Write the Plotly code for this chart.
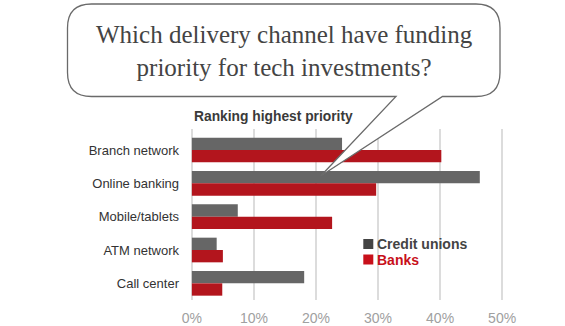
import plotly.graph_objects as go

categories = ["Branch network", "Online banking", "Mobile/tablets", "ATM network", "Call center"]
credit_unions = [24.2, 46.4, 7.4, 4.0, 18.1]
banks = [40.2, 29.7, 22.6, 5.0, 4.9]
x_ticks = [0, 10, 20, 30, 40, 50]
x_tick_labels = ["0%", "10%", "20%", "30%", "40%", "50%"]
series_names = ["Credit unions", "Banks"]
series_colors = ["#666666", "#b3151d"]
legend_text_colors = ["#444444", "#c8101a"]

W, H = 565, 326
L, R, T, B = 190, 61, 129, 26
PW, PH = W - L - R, H - T - B

def px(x):
    return (x - L) / PW

def py(y):
    return (H - B - y) / PH

fig = go.Figure()
for name, vals, col in zip(series_names, [credit_unions, banks], series_colors):
    fig.add_trace(go.Bar(
        y=categories, x=vals, orientation="h", name=name,
        marker=dict(color=col, line=dict(width=0)), showlegend=False,
    ))

# speech bubble
x0, x1, y0, y1, r = 67.5, 500, 4, 96.5, 24
tb1, tb2, tip = 396, 442.5, (320.7, 176)
def P(x, y):
    return f"{px(x):.5f},{py(y):.5f}"
path = (f"M{P(x0 + r, y0)} L{P(x1 - r, y0)} Q{P(x1, y0)} {P(x1, y0 + r)} "
        f"L{P(x1, y1 - r)} Q{P(x1, y1)} {P(x1 - r, y1)} L{P(tb2, y1)} "
        f"L{P(*tip)} L{P(tb1, y1)} L{P(x0 + r, y1)} Q{P(x0, y1)} {P(x0, y1 - r)} "
        f"L{P(x0, y0 + r)} Q{P(x0, y0)} {P(x0 + r, y0)} Z")
fig.add_shape(type="path", path=path, xref="paper", yref="paper",
              fillcolor="white", line=dict(color="#6a6a6a", width=1.3), layer="above")

fig.add_annotation(
    text="Which delivery channel have funding<br>priority for tech investments?",
    x=px(284), y=py(51), xref="paper", yref="paper", showarrow=False,
    xanchor="center", yanchor="middle", align="center",
    font=dict(family="Liberation Serif", size=25, color="#444444"),
)
fig.add_annotation(
    text="<b>Ranking highest priority</b>",
    x=px(192), y=py(116), xref="paper", yref="paper", showarrow=False,
    xanchor="left", yanchor="middle",
    font=dict(family="Liberation Sans", size=13.8, color="#3a3a3a"),
)

# legend (keys + labels)
for i, (name, col, tcol) in enumerate(zip(series_names, series_colors, legend_text_colors)):
    cy = 244 + i * 15.5
    fig.add_shape(type="rect", xref="paper", yref="paper",
                  x0=px(363.3), x1=px(373.3), y0=py(cy - 5), y1=py(cy + 5),
                  fillcolor=tcol, line=dict(width=0))
    fig.add_annotation(
        text=f"<b>{name}</b>", x=px(375), y=py(cy), xref="paper", yref="paper",
        showarrow=False, xanchor="left", yanchor="middle",
        font=dict(family="Liberation Sans", size=14, color=tcol),
    )

fig.update_layout(
    width=W, height=H, margin=dict(l=L, r=R, t=T, b=B),
    paper_bgcolor="white", plot_bgcolor="white",
    barmode="group", bargap=0.26, bargroupgap=0,
    font=dict(family="Liberation Sans", color="#333333"),
    showlegend=False,
)
fig.update_xaxes(range=[-0.3, 50.3], tickvals=x_ticks, ticktext=x_tick_labels,
                 showgrid=True, gridcolor="#dcdcdc", gridwidth=1.5, zeroline=False,
                 showline=False, ticks="", ticklabelstandoff=8, automargin=False,
                 tickfont=dict(size=14, color="#a0a0a0"), fixedrange=True)
fig.update_yaxes(range=[4.5, -0.63], showgrid=False, showline=False, ticks="",
                 ticklabelstandoff=10, automargin=False,
                 tickfont=dict(size=13, color="#333333"), fixedrange=True)

fig.write_html("out.html", config={"displayModeBar": False})
